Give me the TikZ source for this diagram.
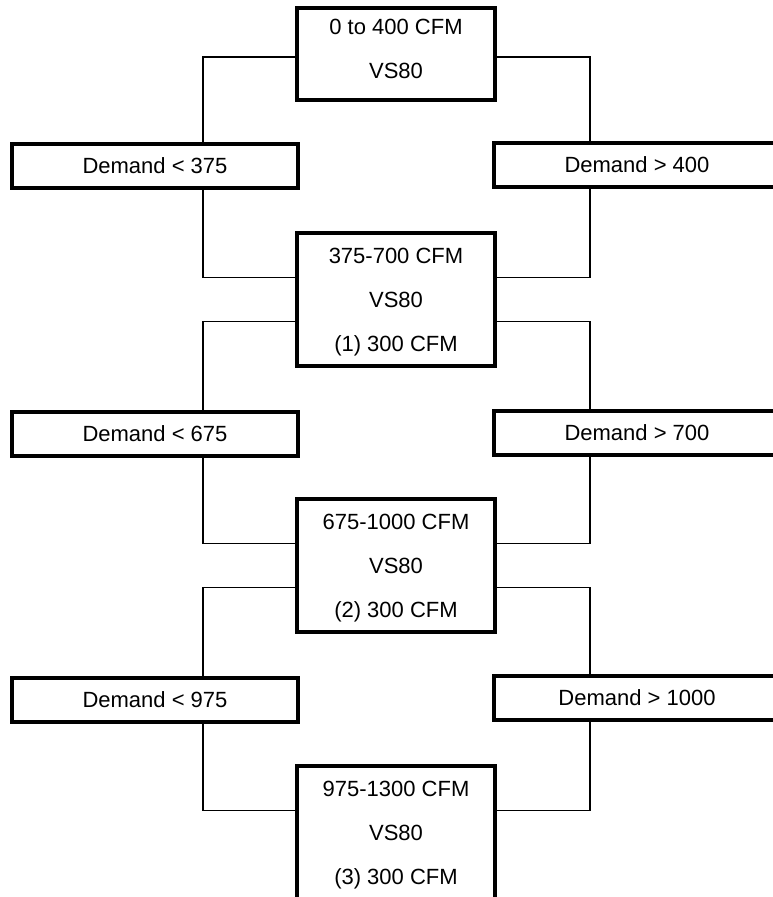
\documentclass[tikz,border=0pt]{standalone}
\usepackage{fontspec}
\setmainfont{Liberation Sans}
\usepackage{tikz}
\tikzset{
  rangebox/.style={draw, line width=3.2pt, minimum width=198pt, minimum height=133pt,
    inner sep=0pt, text depth=0pt, align=center, font=\fontsize{22}{44}\selectfont},
  demandbox/.style={draw, line width=3.2pt, minimum width=286pt, minimum height=44pt,
    inner sep=0pt, font=\fontsize{22}{26}\selectfont},
  link/.style={line width=1.3pt}
}

\begin{document}
\begin{tikzpicture}[x=1pt, y=-1pt]
    \useasboundingbox (0,0) rectangle (773,897);

    % Capacity ranges down the middle
    \node[rangebox, minimum height=92pt, text depth=10pt] (r0) at (396,54) {0 to 400 CFM\\VS80};
    \node[rangebox] (r1) at (396,299.5) {375-700 CFM\\VS80\\(1) 300 CFM};
    \node[rangebox] (r2) at (396,565.5) {675-1000 CFM\\VS80\\(2) 300 CFM};
    \node[rangebox] (r3) at (396,832.5) {975-1300 CFM\\VS80\\(3) 300 CFM};

    % Stepping down (left) and up (right)
    \node[demandbox] (lt1) at (155,166) {Demand < 375};
    \node[demandbox] (gt1) at (637,165) {Demand > 400};
    \node[demandbox] (lt2) at (155,434) {Demand < 675};
    \node[demandbox] (gt2) at (637,433) {Demand > 700};
    \node[demandbox] (lt3) at (155,700) {Demand < 975};
    \node[demandbox] (gt3) at (637,698) {Demand > 1000};

    % Connections between the levels
    \foreach \i/\j/\s in {0/1/-3, 1/2/-22, 2/3/-22} {
        \draw[link] ([yshift=\s pt]r\i.west) -| ([xshift=48pt]lt\j.north);
        \draw[link] ([yshift=\s pt]r\i.east) -| ([xshift=-47pt]gt\j.north);
        \draw[link] ([xshift=48pt]lt\j.south) |- ([yshift=22pt]r\j.west);
        \draw[link] ([xshift=-47pt]gt\j.south) |- ([yshift=22pt]r\j.east);
    }
\end{tikzpicture}
\end{document}
